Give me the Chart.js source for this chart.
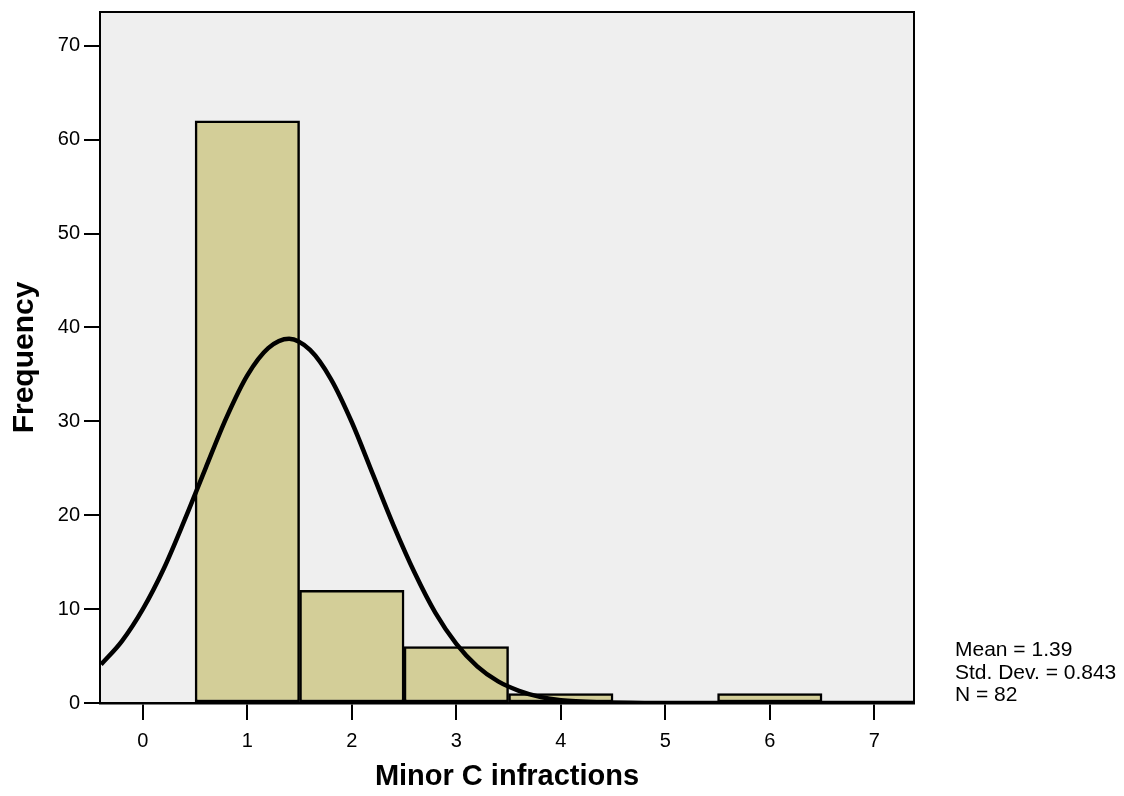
<!DOCTYPE html>
<html>
<head>
<meta charset="utf-8">
<script src="https://cdn.jsdelivr.net/npm/chart.js@4"></script>
<style>
  html, body { margin: 0; padding: 0; background: #ffffff; }
  #wrap { width: 1124px; height: 796px; }
</style>
</head>
<body>
<div id="wrap"><canvas id="histChart" width="1124" height="796"></canvas></div>
<script>
// histogram bins (centre of each bin) and counts
const bins = [1, 2, 3, 4, 5, 6, 7];
const counts = [62, 12, 6, 1, 0, 1, 0];

// normal curve
const curveX = [-0.4, -0.2, 0, 0.2, 0.4, 0.6, 0.8, 1.0, 1.2, 1.4, 1.6, 1.8, 2.0, 2.2, 2.4, 2.6, 2.8, 3.0, 3.2, 3.4, 3.6, 3.8, 4.0, 4.4, 4.8, 5.5, 7.4];
const curveY = [4.1, 6.6, 10.0, 14.3, 19.5, 25.0, 30.4, 34.9, 37.8, 38.8, 37.6, 34.5, 29.9, 24.4, 18.9, 13.9, 9.6, 6.3, 3.9, 2.3, 1.3, 0.65, 0.3, 0.07, 0.01, 0, 0];

const xTicks = [0, 1, 2, 3, 4, 5, 6, 7];
const yTicks = [0, 10, 20, 30, 40, 50, 60, 70];
const stats = ["Mean = 1.39", "Std. Dev. = 0.843", "N = 82"];

const FONT = "'Liberation Sans', Arial, sans-serif";

const plotFrame = {
    id: "plotFrame",
    beforeDraw(chart) {
        const { ctx, chartArea: a } = chart;
        ctx.save();
        ctx.fillStyle = "#efefef";
        ctx.fillRect(a.left, a.top, a.right - a.left, a.bottom - a.top);
        ctx.restore();
    },
    afterDraw(chart) {
        const { ctx, chartArea: a } = chart;
        ctx.save();
        ctx.strokeStyle = "#000";
        ctx.lineWidth = 2;
        ctx.strokeRect(a.left, a.top, a.right - a.left, a.bottom - a.top);
        ctx.fillStyle = "#000";
        ctx.font = "21px " + FONT;
        ctx.textBaseline = "alphabetic";
        ctx.textAlign = "left";
        stats.forEach((s, i) => ctx.fillText(s, 955, 656 + i * 22.5));
        ctx.restore();
    }
};

const ctx = document.getElementById("histChart").getContext("2d");

new Chart(ctx, {
    type: "bar",
    data: {
        datasets: [
            {
                type: "line",
                data: curveX.map((x, i) => ({ x: x, y: curveY[i] })),
                borderColor: "#000",
                borderWidth: 4.5,
                pointRadius: 0,
                cubicInterpolationMode: "monotone",
                fill: false,
                order: 0
            },
            {
                type: "bar",
                data: bins.map((b, i) => ({ x: b, y: counts[i] })),
                backgroundColor: "#d3ce98",
                borderColor: "#000",
                borderWidth: 2.5,
                borderSkipped: false,
                barPercentage: 1,
                categoryPercentage: 1,
                order: 1
            }
        ]
    },
    options: {
        responsive: false,
        animation: false,
        layout: { padding: { top: 12, right: 210, left: 0, bottom: 0 } },
        plugins: { legend: { display: false }, tooltip: { enabled: false } },
        scales: {
            x: {
                type: "linear",
                min: -0.41,
                max: 7.38,
                offset: false,
                afterFit(scale) { scale.height = 93; scale.paddingLeft = 0; scale.paddingRight = 0; },
                afterBuildTicks(scale) { scale.ticks = xTicks.map(v => ({ value: v })); },
                ticks: { color: "#000", font: { family: FONT, size: 20 }, padding: 9, includeBounds: false },
                grid: { offset: false, drawOnChartArea: false, color: "#000", lineWidth: 2, tickLength: 17 },
                border: { color: "#000", width: 2.5 },
                title: { display: true, text: "Minor C infractions", color: "#000", font: { family: FONT, size: 29, weight: "bold" }, padding: { top: 0, bottom: 2 } }
            },
            y: {
                min: 0,
                max: 73.6,
                afterFit(scale) { scale.width = 100; scale.paddingTop = 0; scale.paddingBottom = 0; },
                afterBuildTicks(scale) { scale.ticks = yTicks.map(v => ({ value: v })); },
                ticks: { color: "#000", font: { family: FONT, size: 20 }, padding: 4 },
                grid: { drawOnChartArea: false, color: "#000", lineWidth: 2, tickLength: 16 },
                border: { color: "#000", width: 2 },
                title: { display: true, text: "Frequency", color: "#000", font: { family: FONT, size: 30, weight: "bold" }, padding: { top: 7, bottom: 0 } }
            }
        }
    },
    plugins: [plotFrame]
});
</script>
</body>
</html>
